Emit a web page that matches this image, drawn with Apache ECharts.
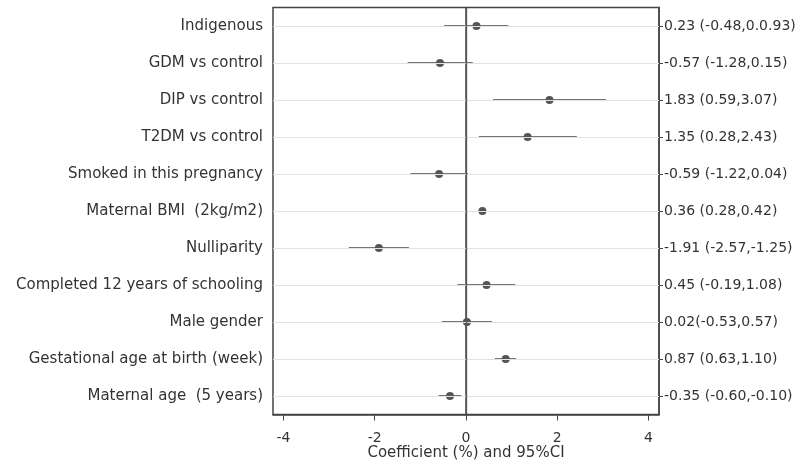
<!DOCTYPE html>
<html>
<head>
<meta charset="utf-8">
<script src="https://cdn.jsdelivr.net/npm/echarts@6/dist/echarts.min.js"></script>
<style>
  html, body { margin: 0; padding: 0; background: #fff; }
  #chart { width: 811px; height: 467px; }
</style>
</head>
<body>
<div id="chart"></div>
<script>
// rows, top to bottom
const categories = [
  'Indigenous',
  'GDM vs control',
  'DIP vs control',
  'T2DM vs control',
  'Smoked in this pregnancy',
  'Maternal BMI  (2kg/m2)',
  'Nulliparity',
  'Completed 12 years of schooling',
  'Male gender',
  'Gestational age at birth (week)',
  'Maternal age  (5 years)'
]
const estimates = [0.23, -0.57, 1.83, 1.35, -0.59, 0.36, -1.91, 0.45, 0.02, 0.87, -0.35]
const lower = [-0.48, -1.28, 0.59, 0.28, -1.22, 0.28, -2.57, -0.19, -0.53, 0.63, -0.60]
const upper = [0.93, 0.15, 3.07, 2.43, 0.04, 0.42, -1.25, 1.08, 0.57, 1.10, -0.10]
const rightLabels = [
  '0.23 (-0.48,0.0.93)',
  '-0.57 (-1.28,0.15)',
  '1.83 (0.59,3.07)',
  '1.35 (0.28,2.43)',
  '-0.59 (-1.22,0.04)',
  '0.36 (0.28,0.42)',
  '-1.91 (-2.57,-1.25)',
  '0.45 (-0.19,1.08)',
  '0.02(-0.53,0.57)',
  '0.87 (0.63,1.10)',
  '-0.35 (-0.60,-0.10)'
]
const xTicks = [-4, -2, 0, 2, 4]

const chart = echarts.init(document.getElementById('chart'))

const font = 'DejaVu Sans, sans-serif'
const textColor = '#333'
const frame = '#444'

const options = {
  backgroundColor: '#fff',
  animation: false,
  grid: {
    left: 273,
    right: 152,
    top: 7.5,
    bottom: 52.5,
    containLabel: false,
    outerBoundsMode: 'none',
    show: true,
    borderColor: frame,
    borderWidth: 1.5
  },
  xAxis: {
    type: 'value',
    min: -4.23,
    max: 4.23,
    name: 'Coefficient (%) and 95%CI',
    nameLocation: 'middle',
    nameGap: 31,
    nameMoveOverlap: false,
    nameTextStyle: { fontFamily: font, fontSize: 15, color: textColor },
    axisLine: { show: true, lineStyle: { color: frame, width: 1.5 } },
    axisTick: { show: true, length: 6, customValues: xTicks, lineStyle: { color: frame } },
    axisLabel: {
      customValues: xTicks,
      margin: 17,
      fontFamily: font,
      fontSize: 14,
      color: textColor
    },
    splitLine: { show: false }
  },
  yAxis: [{
    type: 'category',
    data: categories,
    inverse: true,
    position: 'left',
    axisLine: { show: true, lineStyle: { color: frame, width: 1.5 } },
    axisTick: { show: true, alignWithLabel: true, length: 5, lineStyle: { color: frame } },
    axisLabel: { margin: 10, fontFamily: font, fontSize: 15, color: textColor, interval: 0 },
    splitLine: { show: false }
  }, {
    type: 'category',
    data: rightLabels,
    inverse: true,
    position: 'right',
    axisLine: { show: true, lineStyle: { color: frame, width: 1.5 } },
    axisTick: { show: true, alignWithLabel: true, length: 4, lineStyle: { color: frame } },
    axisLabel: { margin: 5, fontFamily: font, fontSize: 14, color: textColor, interval: 0 },
    splitLine: { show: false }
  }],
  series: [{
    // row guide lines
    type: 'scatter',
    data: [],
    silent: true,
    markLine: {
      silent: true,
      symbol: 'none',
      label: { show: false },
      lineStyle: { color: '#e6e0e0', width: 1, type: 'solid' },
      data: categories.map(c => ({ yAxis: c }))
    }
  }, {
    // confidence intervals
    type: 'custom',
    z: 3,
    renderItem: function (params, api) {
      const a = api.coord([api.value(0), api.value(2)])
      const b = api.coord([api.value(1), api.value(2)])
      return {
        type: 'line',
        shape: { x1: a[0], y1: a[1], x2: b[0], y2: b[1] },
        style: { stroke: '#777', lineWidth: 2, opacity: 1 }
      }
    },
    data: lower.map((lo, i) => [lo, upper[i], i])
  }, {
    type: 'scatter',
    z: 4,
    symbol: 'circle',
    symbolSize: 8,
    itemStyle: { color: '#555', opacity: 1 },
    data: estimates.map((v, i) => [v, i]),
    markLine: {
      silent: true,
      symbol: 'none',
      label: { show: false },
      lineStyle: { color: '#555', width: 1.3, type: 'solid' },
      data: [{ xAxis: 0 }]
    }
  }]
}
chart.setOption(options)
</script>
</body>
</html>
